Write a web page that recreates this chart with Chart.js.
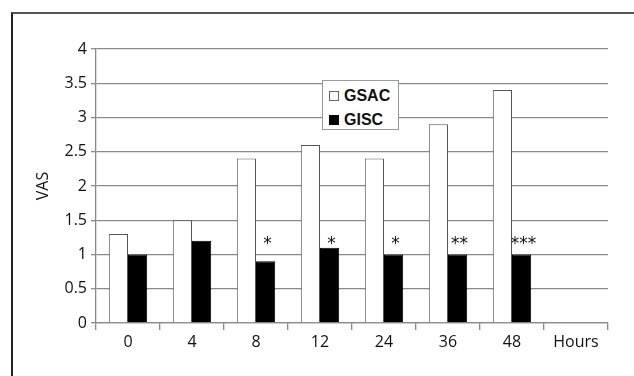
<!DOCTYPE html>
<html>
<head>
<meta charset="utf-8">
<script src="https://cdn.jsdelivr.net/npm/chart.js@4.4.0/dist/chart.umd.min.js"></script>
<style>
  body { margin: 0; background: #fff; }
  #wrap { position: relative; width: 634px; height: 376px; overflow: hidden; }
  #frame { position: absolute; left: 11px; top: 12px; width: 700px; height: 500px;
           border-left: 2px solid #222; border-top: 2px solid #555; }
  #legend { position: absolute; left: 322px; top: 80px; width: 75px; height: 48px;
            border: 1.5px solid #999; background: #fff;
            font: bold 16px "Liberation Sans", Arial, sans-serif; color: #111; }
  #legend div { position: absolute; left: 6px; height: 18px; line-height: 18px; }
  #legend span.box { display: inline-block; width: 10px; height: 10px; margin-right: 5px;
                     vertical-align: 0px; box-sizing: border-box; }
  canvas { position: absolute; left: 0; top: 0; }
</style>
</head>
<body>
<div id="wrap">
  <div id="frame"></div>
  <canvas id="chart" width="634" height="376"></canvas>
  <div id="legend"></div>
</div>
<script>
// hours after surgery
const hours = ['0', '4', '8', '12', '24', '36', '48', 'Hours'];
const gsac = [1.3, 1.5, 2.4, 2.6, 2.4, 2.9, 3.4, null];
const gisc = [1.0, 1.2, 0.9, 1.1, 1.0, 1.0, 1.0, null];
const stars = ['', '', '*', '*', '*', '**', '***', ''];
const yTicks = [0, 0.5, 1, 1.5, 2, 2.5, 3, 3.5, 4];
const seriesNames = ['GSAC', 'GISC'];

const gridGrey = '#8a8a8a';
const textFont = { family: '"Open Sans", sans-serif', size: 16 };

// asterisks over the GISC bars
const starPlugin = {
  id: 'stars',
  afterDatasetsDraw(chart) {
    const ctx = chart.ctx;
    const meta = chart.getDatasetMeta(1);
    const y = chart.scales.y.getPixelForValue(1.2);
    ctx.save();
    ctx.fillStyle = '#111';
    ctx.font = '17px "DejaVu Sans", sans-serif';
    ctx.textAlign = 'center';
    ctx.textBaseline = 'middle';
    stars.forEach((s, i) => {
      if (!s) return;
      const bar = meta.data[i];
      ctx.fillText(s, bar.x + 2, y + 4);
    });
    ctx.restore();
  }
};

const ctx = document.getElementById('chart').getContext('2d');
const myChart = new Chart(ctx, {
  type: 'bar',
  data: {
    labels: hours,
    datasets: [{
      label: seriesNames[0],
      data: gsac,
      backgroundColor: '#fff',
      borderColor: '#555',
      borderWidth: 1
    }, {
      label: seriesNames[1],
      data: gisc,
      backgroundColor: '#000',
      borderColor: '#000',
      borderWidth: 1
    }]
  },
  options: {
    responsive: false,
    devicePixelRatio: 1,
    animation: false,
    layout: { padding: { left: 0, top: 49, right: 26, bottom: 0 } },
    datasets: { bar: { categoryPercentage: 0.6, barPercentage: 1.0 } },
    plugins: { legend: { display: false }, tooltip: { enabled: false } },
    scales: {
      x: {
        grid: {
          drawOnChartArea: true,
          offset: true,
          color: c => (c.index === hours.length ? gridGrey : 'rgba(0,0,0,0)'),
          tickColor: gridGrey,
          tickLength: 7,
          lineWidth: 1.3
        },
        border: { color: gridGrey, width: 1.3 },
        ticks: { color: '#111', font: textFont, padding: 3, maxRotation: 0, autoSkip: false },
        afterFit: s => { s.height = 53; }
      },
      y: {
        min: 0,
        max: 4,
        afterBuildTicks: s => { s.ticks = yTicks.map(v => ({ value: v })); },
        grid: { color: gridGrey, tickColor: gridGrey, tickLength: 5, lineWidth: 1.3 },
        border: { color: gridGrey, width: 1.3 },
        ticks: { color: '#111', font: textFont, padding: 4, callback: v => String(v) },
        title: {
          display: true,
          text: 'VAS',
          color: '#111',
          font: textFont,
          padding: { top: 34, bottom: 0 }
        },
        afterFit: s => { s.width = 96; }
      }
    }
  },
  plugins: [starPlugin]
});

// boxed legend inside the plot
const legend = document.getElementById('legend');
myChart.data.datasets.forEach((ds, i) => {
  const row = document.createElement('div');
  row.style.top = (6 + i * 24) + 'px';
  const box = document.createElement('span');
  box.className = 'box';
  box.style.background = ds.backgroundColor;
  box.style.border = '1px solid ' + (i === 0 ? '#666' : '#000');
  row.appendChild(box);
  row.appendChild(document.createTextNode(ds.label));
  legend.appendChild(row);
});
</script>
</body>
</html>
